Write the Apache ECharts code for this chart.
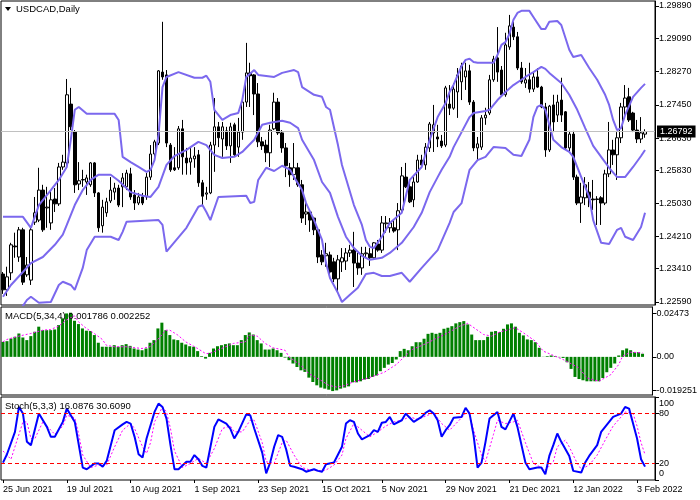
<!DOCTYPE html>
<html><head><meta charset="utf-8">
<script src="https://cdn.jsdelivr.net/npm/echarts@6/dist/echarts.min.js"></script>
<style>html,body{margin:0;padding:0;background:#fff}#c{width:700px;height:500px}</style>
</head><body><div id="c"></div>
<script>
const startDate = '2021-06-25';
const barCount = 162;
const xTickLabels = ['25 Jun 2021','19 Jul 2021','10 Aug 2021','1 Sep 2021','23 Sep 2021','15 Oct 2021','5 Nov 2021','29 Nov 2021','21 Dec 2021','12 Jan 2022','3 Feb 2022'];
const priceTicks = [1.29890,1.29090,1.28270,1.27450,1.26630,1.25830,1.25030,1.24210,1.23410,1.22590];
const macdTicks = [0.02473,0,-0.019251];
const macdTickText = ['0.02473','0.00','-0.019251'];
const stochTicks = [100,80,20,0];
const stochLabelSpots = [92,80,20,8];
const stochLabelText = ['100','80','20','0'];
const stochLevels = [80,20];
const lastPrice = 1.26792;

const opens = [1.2328,1.2289,1.2331,1.2397,1.2370,1.2437,1.2326,1.2313,1.2456,1.2461,
1.2535,1.2491,1.2454,1.2513,1.2501,1.2592,1.2602,1.2747,1.2678,1.2550,
1.2560,1.2555,1.2548,1.2602,1.2528,1.2447,1.2479,1.2508,1.2530,1.2540,
1.2543,1.2543,1.2575,1.2523,1.2503,1.2518,1.2518,1.2567,1.2624,1.2651,
1.2826,1.2819,1.2646,1.2590,1.2590,1.2686,1.2614,1.2604,1.2612,1.2622,
1.2553,1.2525,1.2528,1.2646,1.2691,1.2661,1.2681,1.2644,1.2696,1.2641,
1.2678,1.2752,1.2824,1.2819,1.2772,1.2654,1.2646,1.2627,1.2686,1.2752,
1.2676,1.2639,1.2590,1.2573,1.2590,1.2548,1.2476,1.2481,1.2466,1.2437,
1.2375,1.2373,1.2375,1.2358,1.2316,1.2358,1.2360,1.2380,1.2387,1.2355,
1.2343,1.2378,1.2378,1.2368,1.2402,1.2387,1.2452,1.2442,1.2442,1.2437,
1.2486,1.2567,1.2543,1.2511,1.2555,1.2609,1.2597,1.2639,1.2676,1.2666,
1.2656,1.2646,1.2747,1.2737,1.2777,1.2802,1.2814,1.2829,1.2752,1.2639,
1.2641,1.2713,1.2725,1.2807,1.2861,1.2831,1.2770,1.2888,1.2937,1.2913,
1.2836,1.2799,1.2807,1.2784,1.2814,1.2789,1.2740,1.2634,1.2745,1.2720,
1.2757,1.2728,1.2639,1.2673,1.2567,1.2503,1.2516,1.2530,1.2513,1.2513,
1.2516,1.2503,1.2575,1.2634,1.2622,1.2664,1.2740,1.2765,1.2725,1.2683,
1.2661,1.2673];
const closes = [1.2289,1.2321,1.2400,1.2395,1.2437,1.2308,1.2350,1.2437,1.2479,1.2535,
1.2437,1.2493,1.2511,1.2501,1.2592,1.2604,1.2770,1.2691,1.2548,1.2558,
1.2561,1.2565,1.2602,1.2528,1.2442,1.2493,1.2506,1.2535,1.2540,1.2498,
1.2565,1.2577,1.2518,1.2503,1.2518,1.2503,1.2567,1.2624,1.2654,1.2829,
1.2814,1.2651,1.2585,1.2585,1.2686,1.2617,1.2602,1.2614,1.2619,1.2553,
1.2520,1.2528,1.2646,1.2691,1.2664,1.2691,1.2644,1.2691,1.2622,1.2678,
1.2752,1.2824,1.2817,1.2772,1.2654,1.2644,1.2627,1.2683,1.2752,1.2676,
1.2639,1.2595,1.2573,1.2590,1.2548,1.2466,1.2481,1.2461,1.2437,1.2370,
1.2358,1.2378,1.2333,1.2316,1.2363,1.2368,1.2380,1.2387,1.2355,1.2343,
1.2378,1.2380,1.2368,1.2405,1.2387,1.2454,1.2454,1.2454,1.2434,1.2484,
1.2570,1.2543,1.2506,1.2555,1.2609,1.2597,1.2641,1.2698,1.2696,1.2661,
1.2644,1.2787,1.2737,1.2784,1.2819,1.2841,1.2829,1.2752,1.2639,1.2649,
1.2713,1.2720,1.2807,1.2858,1.2826,1.2770,1.2893,1.2940,1.2913,1.2836,
1.2802,1.2807,1.2784,1.2814,1.2789,1.2740,1.2634,1.2742,1.2703,1.2752,
1.2720,1.2639,1.2673,1.2567,1.2503,1.2518,1.2548,1.2516,1.2511,1.2512,
1.2503,1.2575,1.2634,1.2622,1.2664,1.2740,1.2762,1.2708,1.2683,1.2661,
1.2676,1.26792];
const highs = [1.2333,1.2346,1.2405,1.2430,1.2444,1.2442,1.2370,1.2442,1.2518,1.2590,
1.2548,1.2543,1.2535,1.2540,1.2602,1.2622,1.2809,1.2787,1.2683,1.2604,
1.2585,1.2573,1.2604,1.2604,1.2530,1.2511,1.2516,1.2567,1.2553,1.2548,
1.2577,1.2585,1.2590,1.2535,1.2528,1.2528,1.2577,1.2646,1.2659,1.2831,
1.2950,1.2831,1.2651,1.2641,1.2693,1.2708,1.2639,1.2639,1.2641,1.2634,
1.2560,1.2543,1.2654,1.2762,1.2703,1.2703,1.2691,1.2701,1.2701,1.2713,
1.2757,1.2898,1.2849,1.2821,1.2799,1.2666,1.2659,1.2696,1.2775,1.2762,
1.2683,1.2651,1.2602,1.2651,1.2602,1.2560,1.2511,1.2486,1.2469,1.2442,
1.2387,1.2405,1.2383,1.2368,1.2375,1.2392,1.2392,1.2400,1.2432,1.2380,
1.2395,1.2395,1.2392,1.2407,1.2412,1.2471,1.2471,1.2466,1.2461,1.2503,
1.2592,1.2602,1.2555,1.2567,1.2622,1.2622,1.2651,1.2703,1.2745,1.2696,
1.2671,1.2792,1.2794,1.2799,1.2836,1.2849,1.2849,1.2844,1.2757,1.2666,
1.2720,1.2738,1.2819,1.2866,1.2937,1.2841,1.2923,1.2967,1.2950,1.2925,
1.2851,1.2836,1.2849,1.2826,1.2836,1.2792,1.2750,1.2745,1.2770,1.2770,
1.2812,1.2730,1.2681,1.2681,1.2573,1.2553,1.2567,1.2555,1.2560,1.2520,
1.2520,1.2585,1.2703,1.2659,1.2678,1.2750,1.2794,1.2787,1.2728,1.2708,
1.2715,1.2685];
const lows = [1.2279,1.2274,1.2313,1.2368,1.2358,1.2301,1.2321,1.2301,1.2449,1.2456,
1.2432,1.2442,1.2437,1.2481,1.2496,1.2585,1.2597,1.2683,1.2528,1.2535,
1.2543,1.2523,1.2543,1.2518,1.2432,1.2430,1.2469,1.2503,1.2511,1.2493,
1.2493,1.2535,1.2511,1.2486,1.2498,1.2498,1.2511,1.2560,1.2617,1.2646,
1.2807,1.2641,1.2580,1.2582,1.2585,1.2573,1.2573,1.2573,1.2590,1.2543,
1.2498,1.2511,1.2525,1.2580,1.2641,1.2617,1.2634,1.2602,1.2617,1.2617,
1.2659,1.2740,1.2740,1.2720,1.2641,1.2634,1.2604,1.2592,1.2683,1.2671,
1.2627,1.2567,1.2543,1.2560,1.2543,1.2454,1.2449,1.2432,1.2424,1.2355,
1.2350,1.2346,1.2326,1.2308,1.2284,1.2333,1.2338,1.2370,1.2296,1.2326,
1.2326,1.2368,1.2348,1.2363,1.2383,1.2380,1.2430,1.2430,1.2430,1.2387,
1.2479,1.2540,1.2503,1.2493,1.2553,1.2590,1.2585,1.2629,1.2629,1.2641,
1.2639,1.2641,1.2720,1.2733,1.2713,1.2757,1.2782,1.2745,1.2631,1.2609,
1.2634,1.2696,1.2720,1.2802,1.2802,1.2765,1.2765,1.2881,1.2905,1.2831,
1.2797,1.2787,1.2775,1.2777,1.2787,1.2737,1.2617,1.2629,1.2678,1.2703,
1.2703,1.2634,1.2629,1.2560,1.2498,1.2454,1.2498,1.2493,1.2486,1.2449,
1.2449,1.2498,1.2567,1.2597,1.2560,1.2651,1.2715,1.2703,1.2678,1.2651,
1.2651,1.2664];

const upperBand = [[0,1.2469],[5,1.2469],[7,1.2442],[9,1.2498],[12,1.2535],[14,1.2560],[16,1.2592],[17,1.2659],[18,1.2733],[19,1.2740],[21,1.2723],[28,1.2723],[29,1.2708],[30,1.2617],[32,1.2604],[34,1.2592],[36,1.2580],[37,1.2585],[38,1.2609],[39,1.2671],[40,1.2789],[41,1.2814],[44,1.2826],[48,1.2812],[50,1.2812],[51,1.2817],[52,1.2802],[53,1.2733],[55,1.2708],[57,1.2720],[59,1.2725],[60,1.2757],[61,1.2814],[63,1.2831],[64,1.2819],[68,1.2814],[70,1.2824],[73,1.2831],[74,1.2826],[75,1.2789],[78,1.2770],[80,1.2765],[81,1.2740],[82,1.2733],[84,1.2646],[85,1.2597],[88,1.2498],[90,1.2449],[91,1.2412],[92,1.2395],[93,1.2392],[95,1.2420],[97,1.2454],[100,1.2479],[102,1.2560],[105,1.2592],[107,1.2659],[109,1.2715],[111,1.2750],[112,1.2777],[113,1.2795],[115,1.2841],[116,1.2856],[117,1.2859],[118,1.2851],[119,1.2849],[123,1.2849],[124,1.2868],[125,1.2893],[126,1.2900],[127,1.2920],[128,1.2955],[129,1.2972],[130,1.2977],[132,1.2977],[133,1.2962],[135,1.2932],[136,1.2932],[137,1.2950],[139,1.2952],[140,1.2942],[142,1.2881],[143,1.2863],[145,1.2868],[147,1.2836],[149,1.2807],[151,1.2770],[152,1.2745],[153,1.2708],[154,1.2683],[155,1.2688],[156,1.2720],[158,1.2765],[160,1.2787],[161,1.2797]];
const middleBand = [[0,1.2272],[2,1.2301],[5,1.2333],[7,1.2355],[10,1.2370],[13,1.2400],[15,1.2425],[16,1.2449],[18,1.2498],[20,1.2535],[22,1.2560],[24,1.2573],[27,1.2573],[29,1.2558],[32,1.2530],[35,1.2521],[37,1.2518],[39,1.2543],[41,1.2597],[43,1.2619],[46,1.2634],[49,1.2654],[51,1.2646],[53,1.2622],[55,1.2614],[58,1.2617],[60,1.2629],[63,1.2659],[65,1.2696],[67,1.2701],[70,1.2706],[72,1.2701],[74,1.2688],[75,1.2659],[78,1.2609],[80,1.2555],[82,1.2528],[84,1.2469],[86,1.2420],[88,1.2392],[90,1.2373],[92,1.2363],[95,1.2368],[97,1.2380],[100,1.2405],[103,1.2444],[105,1.2479],[107,1.2530],[109,1.2567],[110,1.2585],[112,1.2617],[113,1.2641],[115,1.2678],[117,1.2715],[118,1.2725],[121,1.2730],[122,1.2733],[124,1.2757],[126,1.2777],[128,1.2794],[130,1.2807],[131,1.2814],[133,1.2826],[135,1.2839],[136,1.2834],[137,1.2824],[140,1.2799],[142,1.2770],[144,1.2733],[146,1.2688],[148,1.2644],[150,1.2617],[152,1.2590],[154,1.2567],[156,1.2567],[158,1.2592],[160,1.2619],[161,1.2634]];
const lowerBand = [[0,1.2203],[4,1.2235],[6,1.2264],[7,1.2272],[9,1.2257],[12,1.2259],[14,1.2301],[15,1.2309],[17,1.2301],[18,1.2289],[20,1.2343],[21,1.2387],[23,1.2420],[27,1.2420],[29,1.2412],[30,1.2432],[31,1.2457],[39,1.2461],[40,1.2449],[41,1.2383],[42,1.2395],[46,1.2442],[49,1.2494],[50,1.2498],[51,1.2481],[52,1.2461],[54,1.2518],[61,1.2521],[62,1.2503],[63,1.2506],[64,1.2560],[66,1.2590],[68,1.2582],[70,1.2595],[72,1.2585],[73,1.2567],[75,1.2535],[76,1.2503],[78,1.2461],[80,1.2412],[81,1.2355],[82,1.2318],[84,1.2281],[85,1.2259],[87,1.2277],[89,1.2294],[91,1.2328],[93,1.2331],[95,1.2323],[97,1.2323],[100,1.2331],[102,1.2309],[105,1.2343],[109,1.2387],[112,1.2454],[113,1.2481],[115,1.2503],[117,1.2585],[119,1.2609],[121,1.2617],[123,1.2641],[126,1.2639],[128,1.2622],[130,1.2619],[132,1.2659],[133,1.2715],[134,1.2740],[135,1.2745],[136,1.2733],[138,1.2659],[140,1.2641],[142,1.2629],[143,1.2617],[145,1.2567],[147,1.2518],[148,1.2461],[150,1.2405],[152,1.2402],[154,1.2437],[155,1.2442],[156,1.2420],[158,1.2412],[160,1.2444],[161,1.2479]];

const macdHist = [0.0086,0.0090,0.0105,0.0115,0.0134,0.0111,0.0096,0.0119,0.0144,0.0173,
0.0153,0.0153,0.0153,0.0157,0.0182,0.0221,0.0249,0.0253,0.0207,0.0188,
0.0163,0.0150,0.0148,0.0125,0.0081,0.0058,0.0058,0.0058,0.0067,0.0058,
0.0067,0.0073,0.0063,0.0048,0.0042,0.0038,0.0048,0.0081,0.0096,0.0163,
0.0196,0.0153,0.0125,0.0100,0.0096,0.0081,0.0071,0.0061,0.0058,0.0033,
0.0004,-0.0010,0.0023,0.0048,0.0061,0.0067,0.0073,0.0077,0.0067,0.0067,
0.0096,0.0125,0.0140,0.0128,0.0096,0.0077,0.0042,0.0042,0.0048,0.0038,
0.0023,-0.0004,-0.0019,-0.0038,-0.0058,-0.0077,-0.0086,-0.0119,-0.0144,-0.0163,
-0.0176,-0.0182,-0.0188,-0.0196,-0.0192,-0.0182,-0.0176,-0.0169,-0.0146,-0.0146,
-0.0140,-0.0130,-0.0127,-0.0115,-0.0107,-0.0082,-0.0063,-0.0044,-0.0035,-0.0015,
0.0033,0.0046,0.0038,0.0061,0.0084,0.0084,0.0104,0.0132,0.0138,0.0132,
0.0138,0.0161,0.0167,0.0176,0.0192,0.0199,0.0205,0.0186,0.0128,0.0096,
0.0096,0.0096,0.0115,0.0144,0.0148,0.0142,0.0161,0.0186,0.0192,0.0173,
0.0138,0.0123,0.0100,0.0096,0.0084,0.0052,0.0001,0.0004,0.0008,0.0004,
-0.0002,-0.0006,-0.0031,-0.0069,-0.0115,-0.0127,-0.0134,-0.0140,-0.0140,-0.0140,
-0.0140,-0.0121,-0.0088,-0.0063,-0.0038,0.0008,0.0038,0.0048,0.0038,0.0027,
0.0027,0.001786];
const macdSignal = [[0,0.0086],[1,0.0100],[4,0.0119],[7,0.0134],[10,0.0153],[12,0.0157],[14,0.0176],[16,0.0211],[18,0.0235],[19,0.0201],[21,0.0163],[23,0.0134],[25,0.0100],[26,0.0067],[28,0.0058],[31,0.0058],[35,0.0048],[37,0.0058],[39,0.0100],[41,0.0153],[42,0.0153],[44,0.0125],[46,0.0086],[49,0.0048],[51,0.0019],[52,0.0019],[55,0.0048],[58,0.0077],[61,0.0086],[62,0.0125],[64,0.0119],[66,0.0077],[68,0.0052],[71,0.0038],[72,0.0000],[75,-0.0048],[77,-0.0096],[80,-0.0134],[82,-0.0163],[84,-0.0173],[86,-0.0165],[88,-0.0145],[92,-0.0121],[96,-0.0088],[99,-0.0044],[101,0.0000],[103,0.0042],[106,0.0071],[109,0.0104],[112,0.0138],[115,0.0176],[117,0.0192],[121,0.0128],[123,0.0119],[125,0.0142],[128,0.0161],[129,0.0167],[131,0.0138],[134,0.0090],[136,0.0033],[139,0.0004],[141,-0.0015],[145,-0.0063],[147,-0.0121],[150,-0.0140],[153,-0.0102],[155,-0.0044],[156,0.0004],[158,0.0027],[161,0.002252]];

const stochMain = [[0,21],[1,31],[3,58],[4,88],[5,80],[6,46],[7,42],[9,80],[11,64],[12,52],[13,52],[15,70],[16,86],[18,70],[20,15],[21,13],[23,20],[24,20],[25,16],[26,23],[28,60],[30,67],[31,70],[32,68],[33,52],[34,31],[35,27],[36,50],[38,82],[39,92],[40,88],[41,74],[42,42],[43,13],[44,13],[46,22],[47,22],[48,30],[49,25],[50,17],[51,15],[53,64],[54,73],[56,68],[57,62],[58,50],[59,58],[61,79],[62,78],[63,62],[65,33],[66,8],[67,21],[68,40],[69,54],[70,52],[71,37],[72,17],[73,16],[75,13],[76,10],[78,13],[79,11],[80,10],[81,19],[83,21],[85,40],[86,68],[87,72],[88,70],[89,56],[90,49],[92,54],[93,60],[94,58],[95,69],[96,70],[97,76],[98,67],[100,72],[101,80],[102,75],[103,70],[105,76],[106,81],[107,84],[108,80],[109,72],[110,52],[111,60],[112,66],[113,75],[115,76],[116,87],[117,80],[118,54],[119,15],[120,21],[121,46],[122,74],[124,82],[125,64],[126,61],[128,80],[129,64],[131,21],[132,13],[134,15],[135,15],[136,7],[137,29],[138,42],[139,56],[140,46],[142,29],[143,11],[145,9],[146,21],[147,29],[149,42],[150,58],[152,70],[153,76],[155,80],[156,88],[157,86],[158,68],[159,50],[160,25],[161,16.0876]];
const stochSignal = [[0,35],[2,25],[3,40],[5,70],[6,70],[7,50],[8,50],[10,70],[11,65],[13,55],[15,65],[16,78],[18,75],[19,55],[20,30],[22,15],[24,18],[26,18],[28,40],[30,60],[32,68],[33,62],[35,40],[36,32],[37,45],[38,70],[40,88],[41,82],[42,62],[43,35],[45,15],[47,20],[49,26],[51,20],[53,38],[55,62],[57,65],[58,58],[60,58],[62,72],[63,72],[65,45],[66,22],[68,20],[70,45],[71,48],[73,30],[75,15],[77,12],[79,11],[81,12],[83,18],[85,30],[86,50],[88,68],[90,60],[92,52],[94,58],[96,65],[98,70],[100,72],[102,76],[104,73],[106,77],[108,81],[110,68],[112,60],[114,70],[116,80],[117,80],[118,60],[120,30],[121,22],[123,55],[124,72],[126,68],[128,70],[129,72],[131,45],[133,20],[135,15],[136,12],[138,22],[139,40],[141,48],[142,40],[144,20],[145,13],[147,18],[149,30],[151,48],[153,65],[155,76],[156,82],[158,80],[159,65],[160,45],[161,30.609]];

const MONTHS = ['Jan','Feb','Mar','Apr','May','Jun','Jul','Aug','Sep','Oct','Nov','Dec'];
function weekdayLabels(start, n) {
  const out = [];
  const d = new Date(start + 'T00:00:00Z');
  while (out.length < n) {
    const wd = d.getUTCDay();
    if (wd !== 0 && wd !== 6) out.push(d.getUTCDate() + ' ' + MONTHS[d.getUTCMonth()] + ' ' + d.getUTCFullYear());
    d.setUTCDate(d.getUTCDate() + 1);
  }
  return out;
}
const categories = weekdayLabels(startDate, barCount).concat(['', '']);
const candleData = opens.map((o, i) => [o, closes[i], lows[i], highs[i]]);

const FONT = 'Liberation Sans';
const gridBase = { left: 1, width: 654, show: true, borderColor: '#000', borderWidth: 1, backgroundColor: '#fff' };
function xAx(idx, showLabels) {
  return {
    type: 'category', gridIndex: idx, data: categories, boundaryGap: true,
    axisLine: { show: false },
    axisTick: { show: showLabels, length: 3, alignWithLabel: true, lineStyle: { color: '#000' },
      interval: (i, v) => xTickLabels.includes(v) },
    axisLabel: { show: showLabels, align: 'left', margin: 5, fontSize: 9, fontFamily: FONT, color: '#000',
      interval: (i, v) => xTickLabels.includes(v) },
    splitLine: { show: false }
  };
}
function yAx(idx, min, max, ticks, labelSpots, fmt) {
  return {
    type: 'value', gridIndex: idx, position: 'right', min: min, max: max, scale: true,
    axisLine: { show: true, lineStyle: { color: '#000' } },
    axisTick: { show: true, length: 4, inside: false, lineStyle: { color: '#000' }, customValues: ticks },
    axisLabel: { show: true, fontSize: 9, fontFamily: FONT, color: '#000', margin: 4, customValues: labelSpots, formatter: fmt },
    splitLine: { show: false }
  };
}

const chart = echarts.init(document.getElementById('c'), null, { renderer: 'canvas' });
chart.setOption({
  animation: false,
  backgroundColor: '#fff',
  textStyle: { fontFamily: FONT },
  grid: [
    Object.assign({ top: 1, height: 304 }, gridBase),
    Object.assign({ top: 307, height: 88 }, gridBase),
    Object.assign({ top: 397, height: 83 }, gridBase)
  ],
  xAxis: [xAx(0, false), xAx(1, false), xAx(2, true)],
  yAxis: [
    yAx(0, 1.22516, 1.30013, priceTicks, priceTicks, v => v.toFixed(5)),
    yAx(1, -0.02185, 0.02858, macdTicks, macdTicks, v => {
      const k = macdTicks.findIndex(t => Math.abs(t - v) < 1e-7);
      return k >= 0 ? macdTickText[k] : '';
    }),
    yAx(2, 0, 100, stochTicks, stochLabelSpots, v => {
      const k = stochLabelSpots.findIndex(t => Math.abs(t - v) < 1e-6);
      return k >= 0 ? stochLabelText[k] : '';
    })
  ],
  series: [
    {
      type: 'candlestick', xAxisIndex: 0, yAxisIndex: 0, data: candleData, barWidth: 3, clip: true,
      itemStyle: { color: '#fff', color0: '#000', borderColor: '#000', borderColor0: '#000', borderColorDoji: '#000', borderWidth: 1 },
      markLine: {
        silent: true, symbol: 'none', animation: false, precision: 5,
        lineStyle: { color: '#c0c0c0', width: 1, type: 'solid' },
        label: { show: true, position: 'end', distance: 2, formatter: () => lastPrice.toFixed(5),
          backgroundColor: '#000', color: '#fff', padding: [2, 3, 1, 3], fontSize: 9, fontFamily: FONT },
        data: [{ yAxis: lastPrice }]
      },
      z: 3
    },
    { type: 'line', xAxisIndex: 0, yAxisIndex: 0, data: upperBand, symbol: 'none', clip: true, lineStyle: { color: '#7b68ee', width: 2 }, z: 4 },
    { type: 'line', xAxisIndex: 0, yAxisIndex: 0, data: middleBand, symbol: 'none', clip: true, lineStyle: { color: '#7b68ee', width: 2 }, z: 4 },
    { type: 'line', xAxisIndex: 0, yAxisIndex: 0, data: lowerBand, symbol: 'none', clip: true, lineStyle: { color: '#7b68ee', width: 2 }, z: 4 },
    { type: 'bar', xAxisIndex: 1, yAxisIndex: 1, data: macdHist, barWidth: 3, itemStyle: { color: '#008000' } },
    { type: 'line', xAxisIndex: 1, yAxisIndex: 1, data: macdSignal, symbol: 'none', clip: true, lineStyle: { color: '#ff00ff', width: 1, type: [2, 2] }, z: 4 },
    { type: 'line', xAxisIndex: 2, yAxisIndex: 2, data: stochSignal, symbol: 'none', clip: true, lineStyle: { color: '#ff00ff', width: 1, type: [2, 2] }, z: 3 },
    {
      type: 'line', xAxisIndex: 2, yAxisIndex: 2, data: stochMain, symbol: 'none', clip: true, lineStyle: { color: '#0000ff', width: 2 }, z: 4,
      markLine: {
        silent: true, symbol: 'none', animation: false, precision: 2, label: { show: false },
        lineStyle: { color: '#ff0000', width: 1, type: [4, 3] },
        data: stochLevels.map(v => ({ yAxis: v }))
      }
    }
  ],
  graphic: [
    { type: 'polygon', shape: { points: [[5, 7], [11, 7], [8, 11]] }, style: { fill: '#000' }, z: 100 },
    { type: 'text', left: 16, top: 4, style: { text: 'USDCAD,Daily', fontSize: 9.5, fontFamily: FONT, fill: '#000' }, z: 100 },
    { type: 'text', left: 5, top: 311, style: { text: 'MACD(5,34,4) ' + macdHist[macdHist.length - 1] + ' 0.002252', fontSize: 9.5, fontFamily: FONT, fill: '#000' }, z: 100 },
    { type: 'text', left: 5, top: 401, style: { text: 'Stoch(5,3,3) 16.0876 30.6090', fontSize: 9.5, fontFamily: FONT, fill: '#000' }, z: 100 }
  ]
});
</script></body></html>
